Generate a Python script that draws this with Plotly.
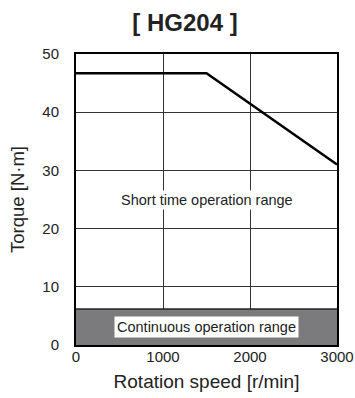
import plotly.graph_objects as go

speed = [0, 1500, 3000]
torque = [46.7, 46.7, 31]
cont_speed = [0, 3000]
cont_torque = [6.2, 6.2]
x_ticks = [0, 1000, 2000, 3000]
y_ticks = [0, 10, 20, 30, 40, 50]

FONT = "Liberation Sans, Arial, sans-serif"

W, H = 355, 398

fig = go.Figure()
fig.add_trace(go.Scatter(x=cont_speed, y=cont_torque, mode="lines", fill="tozeroy",
                         fillcolor="#7b7b7d", line=dict(color="#222", width=1.5),
                         hoverinfo="skip", showlegend=False))
fig.add_trace(go.Scatter(x=speed, y=torque, mode="lines",
                         line=dict(color="black", width=2.5), showlegend=False))

fig.add_annotation(x=1500, y=24.9, text="Short time operation range", showarrow=False,
                   font=dict(family=FONT, size=14.5, color="#222"), bgcolor="white")
fig.add_annotation(x=1500, y=3.1, text="Continuous operation range", showarrow=False,
                   font=dict(family=FONT, size=14.5, color="#222"), bgcolor="white",
                   borderpad=2)

fig.update_layout(
    width=W, height=H,
    margin=dict(l=76, r=18, t=54, b=53, autoexpand=False),
    paper_bgcolor="white", plot_bgcolor="white",
    title=dict(text="<b>[ HG204 ]</b>", x=185 / W, xanchor="center",
               y=1 - 23 / H, yanchor="middle", yref="container", xref="container",
               font=dict(family=FONT, size=24, color="#222")),
    font=dict(family=FONT, color="#222"),
)
fig.update_xaxes(range=[0, 3000], tickvals=x_ticks, showgrid=True, gridcolor="#333", gridwidth=1,
                 showline=True, linecolor="black", linewidth=2, mirror=True, zeroline=False,
                 automargin=False, ticks="", ticklabelstandoff=-3, tickfont=dict(size=15),
                 title=dict(text="Rotation speed [r/min]", font=dict(size=19), standoff=11))
fig.update_yaxes(range=[0, 50], tickvals=y_ticks, showgrid=True, gridcolor="#333", gridwidth=1,
                 showline=True, linecolor="black", linewidth=2, mirror=True, zeroline=False,
                 automargin=False, ticks="", ticklabelstandoff=12, tickfont=dict(size=15),
                 title=dict(text="Torque [N·m]", font=dict(size=18.5), standoff=13))

fig.write_html("out.html", config={"displayModeBar": False},
               post_script="document.body.style.margin='0';document.body.style.overflow='hidden';")
